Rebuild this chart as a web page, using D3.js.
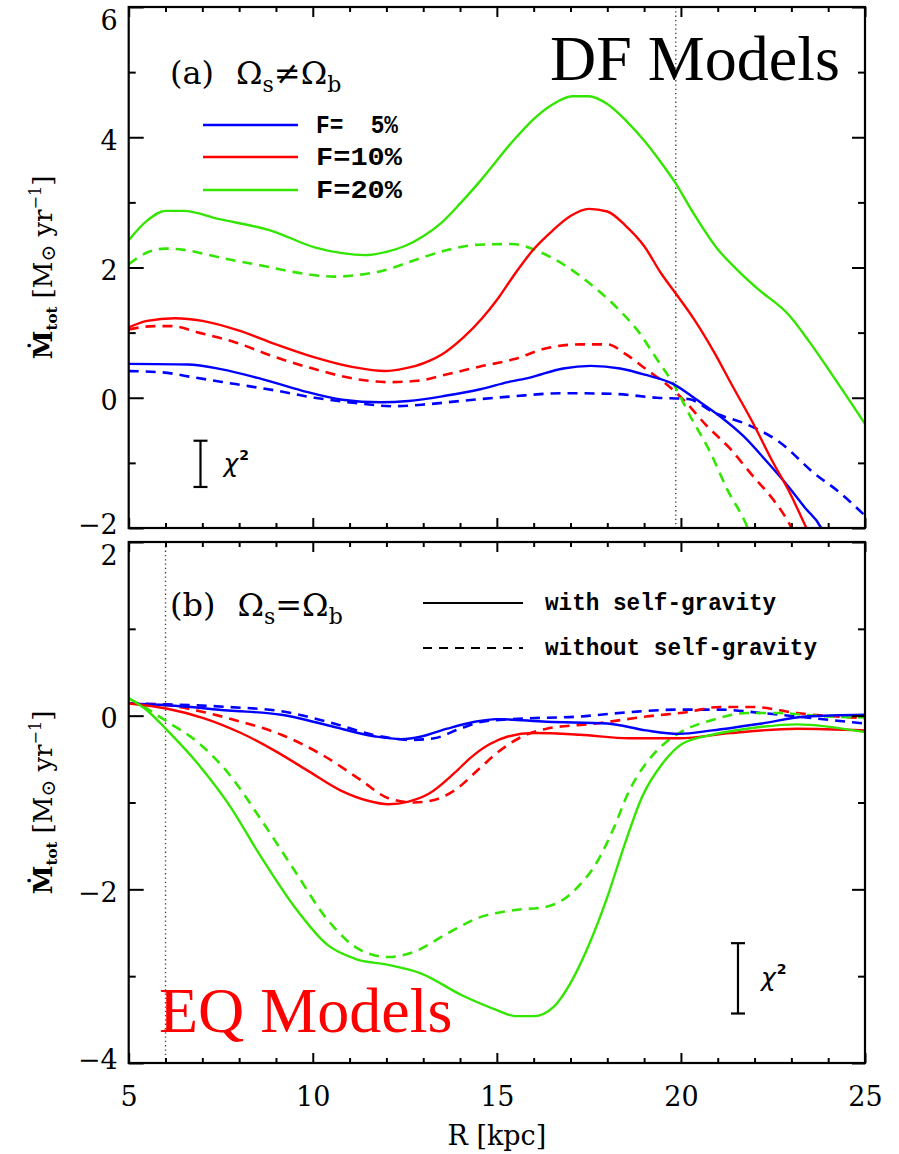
<!DOCTYPE html>
<html>
<head>
<meta charset="utf-8">
<script src="https://cdn.jsdelivr.net/npm/d3@7"></script>
<style>
  html, body { margin: 0; padding: 0; background: #fff; }
  svg { display: block; }
</style>
</head>
<body>
<svg id="chart" width="899" height="1154"></svg>
<script>
// ---------------- DATA ----------------
const xDomain = [5, 25];
const xMajorTicks = [5, 10, 15, 20, 25];
const xMinorTicks = d3.range(5, 25.01, 1);

const aDomain = [-2, 6];
const aMajorTicks = [-2, 0, 2, 4, 6];
const aMinorTicks = d3.range(-2, 6.01, 1);
const bDomain = [-4, 2];
const bMajorTicks = [-4, -2, 0, 2];
const bMinorTicks = d3.range(-4, 2.01, 1);

const fLabels = ["F=  5%", "F=10%", "F=20%"];
const sgLabels = ["with self-gravity", "without self-gravity"];

// Panel (a): DF models, [R (kpc), Mdot (Msun/yr)]
const aF5With = [[5,0.52],[6.6,0.51],[7.5,0.44],[8.6,0.29],[9.7,0.11],[10.8,-0.03],[11.85,-0.07],[12.6,-0.05],[13.6,0.03],[14.55,0.13],[15.3,0.24],[15.9,0.31],[16.8,0.45],[17.55,0.49],[18.35,0.45],[19.05,0.35],[19.8,0.21],[20.4,-0.02],[21.05,-0.28],[21.7,-0.59],[22.35,-0.99],[22.9,-1.35],[23.4,-1.71],[23.8,-1.99],[23.85,-2.05]];
const aF5Without = [[5,0.41],[5.9,0.39],[6.8,0.31],[7.9,0.21],[9.0,0.11],[10.05,0.0],[11.15,-0.08],[12.2,-0.13],[13.1,-0.1],[14.0,-0.05],[15.4,0.02],[16.8,0.07],[18.15,0.06],[19.35,0.0],[20.2,-0.02],[20.9,-0.23],[21.8,-0.41],[22.7,-0.69],[23.6,-1.15],[24.3,-1.45],[25.0,-1.81]];
const aF10With = [[5,1.08],[5.5,1.18],[6.25,1.22],[7.0,1.18],[8.0,1.03],[9.0,0.82],[10.05,0.62],[11.1,0.47],[11.95,0.41],[12.5,0.45],[13.05,0.54],[13.6,0.7],[14.1,0.93],[14.6,1.22],[15.0,1.5],[15.45,1.87],[16.0,2.28],[16.5,2.56],[17.0,2.79],[17.5,2.9],[18.0,2.86],[18.5,2.64],[19.0,2.33],[19.45,1.92],[19.9,1.57],[20.35,1.21],[20.9,0.7],[21.4,0.18],[21.95,-0.38],[22.5,-0.99],[22.95,-1.45],[23.4,-1.99],[23.45,-2.05]];
const aF10Without = [[5,1.05],[5.7,1.1],[6.15,1.1],[6.9,1.0],[7.9,0.85],[8.9,0.64],[10.05,0.44],[11.15,0.29],[12.05,0.24],[12.85,0.26],[13.65,0.36],[14.55,0.48],[15.45,0.59],[16.35,0.76],[17.25,0.82],[18.0,0.82],[18.5,0.67],[19.05,0.44],[19.6,0.21],[20.05,-0.02],[20.7,-0.43],[21.35,-0.79],[21.95,-1.2],[22.5,-1.56],[22.95,-1.94],[23.05,-2.05]];
const aF20With = [[5,2.42],[5.5,2.72],[6.0,2.87],[6.5,2.87],[7.4,2.75],[8.9,2.56],[10.05,2.31],[10.8,2.22],[11.4,2.19],[12.0,2.24],[12.5,2.33],[13.0,2.48],[13.5,2.69],[14.0,2.98],[14.55,3.33],[15.45,3.95],[16.0,4.28],[16.5,4.5],[17.05,4.63],[17.5,4.63],[18.0,4.51],[18.5,4.26],[19.0,3.95],[19.45,3.62],[19.85,3.3],[20.3,2.87],[21.0,2.28],[21.5,1.98],[22.05,1.69],[22.95,1.26],[23.5,0.85],[24.1,0.36],[25.0,-0.4]];
const aF20Without = [[5,2.05],[5.5,2.23],[6.0,2.29],[6.5,2.27],[7.5,2.15],[8.6,2.03],[9.7,1.91],[10.6,1.86],[11.3,1.89],[11.9,1.95],[12.7,2.1],[13.6,2.26],[14.5,2.35],[15.4,2.36],[16.2,2.23],[16.8,2.05],[17.6,1.72],[18.3,1.36],[18.8,1.05],[19.35,0.59],[19.8,0.21],[20.25,-0.28],[20.8,-0.84],[21.25,-1.4],[21.8,-1.98],[21.85,-2.05]];

// Panel (b): EQ models
const bF5With = [[5,0.14],[6.05,0.12],[7.7,0.06],[9.15,0.01],[10.4,-0.11],[11.7,-0.24],[12.4,-0.27],[12.95,-0.24],[13.65,-0.15],[14.4,-0.07],[15.0,-0.04],[16.35,-0.07],[18.0,-0.09],[19.05,-0.17],[19.95,-0.21],[20.85,-0.17],[22.2,-0.09],[23.4,-0.01],[25.0,0.01]];
const bF5Without = [[5,0.14],[6.05,0.13],[7.7,0.1],[9.15,0.05],[10.4,-0.07],[11.85,-0.24],[12.65,-0.28],[13.3,-0.26],[14.0,-0.15],[14.6,-0.07],[15.4,-0.04],[17.25,-0.01],[18.6,0.04],[19.95,0.07],[21.05,0.07],[22.2,0.03],[23.6,-0.03],[25.0,-0.09]];
const bF10With = [[5,0.14],[6.05,0.08],[7.05,-0.03],[8.05,-0.2],[8.95,-0.4],[9.85,-0.63],[10.75,-0.86],[11.5,-0.98],[12.05,-1.02],[12.6,-0.99],[13.15,-0.9],[13.85,-0.66],[14.3,-0.48],[14.8,-0.33],[15.3,-0.24],[16.0,-0.2],[17.25,-0.22],[18.6,-0.26],[19.95,-0.26],[21.35,-0.2],[23.15,-0.15],[25.0,-0.17]];
const bF10Without = [[5,0.14],[6.05,0.12],[7.05,0.04],[8.05,-0.07],[9.15,-0.22],[10.25,-0.45],[11.3,-0.74],[12.05,-0.95],[12.75,-1.0],[13.3,-0.97],[13.85,-0.86],[14.55,-0.6],[15.0,-0.43],[15.6,-0.26],[16.35,-0.15],[17.7,-0.09],[19.05,-0.01],[20.15,0.04],[21.05,0.1],[21.95,0.1],[23.15,0.03],[25.0,-0.03]];
const bF20With = [[5,0.2],[5.5,0.06],[6.05,-0.17],[6.95,-0.59],[7.7,-1.01],[8.6,-1.63],[9.5,-2.2],[10.4,-2.64],[11.15,-2.8],[12.05,-2.87],[12.95,-2.97],[14.05,-3.22],[15.0,-3.39],[15.5,-3.46],[16.0,-3.46],[16.55,-3.35],[17.0,-3.08],[17.55,-2.59],[18.0,-2.09],[18.45,-1.51],[18.95,-0.93],[19.5,-0.55],[20.05,-0.32],[20.85,-0.22],[21.8,-0.15],[23.15,-0.1],[25.0,-0.19]];
const bF20Without = [[5,0.2],[5.5,0.08],[6.05,-0.07],[6.8,-0.28],[7.7,-0.66],[8.6,-1.2],[9.5,-1.78],[10.4,-2.35],[11.3,-2.7],[12.05,-2.78],[12.75,-2.72],[13.65,-2.51],[14.55,-2.32],[15.45,-2.24],[16.35,-2.2],[16.8,-2.12],[17.25,-1.95],[17.7,-1.7],[18.15,-1.32],[18.6,-0.86],[19.05,-0.55],[19.5,-0.34],[19.95,-0.2],[20.85,-0.05],[21.8,0.03],[22.7,0.03],[23.6,0.0],[25.0,-0.02]];

// reference radii (dotted lines) and chi^2 bars [R, low, high]
const aRefR = 19.86;
const bRefR = 6.0;
const aChiBar = [6.95, -1.37, -0.66];
const bChiBar = [21.55, -3.43, -2.62];

// ---------------- STYLE ----------------
const colF = ["#0000ff", "#ff0000", "#33e600"];
const dashPat = "10,7";
const svg = d3.select("#chart");
const L = 128.7, Rt = 865;
const panels = [
  { id: "a", top: 7, bottom: 528, domain: aDomain, major: aMajorTicks, minor: aMinorTicks,
    series: [[aF5With, aF5Without], [aF10With, aF10Without], [aF20With, aF20Without]],
    refR: aRefR, chi: aChiBar },
  { id: "b", top: 542, bottom: 1063, domain: bDomain, major: bMajorTicks, minor: bMinorTicks,
    series: [[bF5With, bF5Without], [bF10With, bF10Without], [bF20With, bF20Without]],
    refR: bRefR, chi: bChiBar }
];

const x = d3.scaleLinear().domain(xDomain).range([L, Rt]);
const tickFont = "'DejaVu Serif', serif";

panels.forEach((p, pi) => {
  const y = d3.scaleLinear().domain(p.domain).range([p.bottom, p.top]);
  const clipId = "clip" + p.id;
  svg.append("clipPath").attr("id", clipId).append("rect")
    .attr("x", L).attr("y", p.top).attr("width", Rt - L).attr("height", p.bottom - p.top);

  // dotted reference line
  svg.append("line")
    .attr("x1", x(p.refR)).attr("x2", x(p.refR))
    .attr("y1", p.top).attr("y2", p.bottom)
    .attr("stroke", "#444").attr("stroke-width", 1.4).attr("stroke-dasharray", "1.3,3");

  // curves
  const line = d3.line().x(d => x(d[0])).y(d => y(d[1])).curve(d3.curveMonotoneX);
  const g = svg.append("g").attr("clip-path", `url(#${clipId})`);
  p.series.forEach((pair, fi) => {
    g.append("path").datum(pair[1]).attr("d", line)
      .attr("fill", "none").attr("stroke", colF[fi]).attr("stroke-width", 2.6)
      .attr("stroke-dasharray", dashPat);
  });
  p.series.forEach((pair, fi) => {
    g.append("path").datum(pair[0]).attr("d", line)
      .attr("fill", "none").attr("stroke", colF[fi]).attr("stroke-width", 2.4);
  });

  const tickStyle = sel => { sel.select(".domain").remove(); sel.selectAll("line").attr("stroke", "#000").attr("stroke-width", 2); };
  const gl = svg.append("g").attr("transform", `translate(${L},0)`)
    .call(d3.axisLeft(y).tickValues(p.major).tickSizeInner(-15).tickSizeOuter(0).tickPadding(11)
      .tickFormat(d => d < 0 ? "\u2212" + Math.abs(d) : d));
  tickStyle(gl);
  gl.selectAll("text").attr("font-family", tickFont).attr("font-size", 27).attr("fill", "#000")
    .attr("dy", d => {
      const py = y(d);
      let shift = 3;
      if (py - p.top < 12) shift = 13;
      if (p.bottom - py < 12) shift = -4;
      return (shift + 9) + "px";
    });
  const glm = svg.append("g").attr("transform", `translate(${L},0)`)
    .call(d3.axisLeft(y).tickValues(p.minor.filter(v => !p.major.includes(v))).tickSizeInner(-7).tickSizeOuter(0).tickFormat(""));
  tickStyle(glm);
  const gr = svg.append("g").attr("transform", `translate(${Rt},0)`)
    .call(d3.axisRight(y).tickValues(p.major).tickSizeInner(-13).tickSizeOuter(0).tickFormat(""));
  tickStyle(gr);
  const grm = svg.append("g").attr("transform", `translate(${Rt},0)`)
    .call(d3.axisRight(y).tickValues(p.minor.filter(v => !p.major.includes(v))).tickSizeInner(-7).tickSizeOuter(0).tickFormat(""));
  tickStyle(grm);
  const xMinorOnly = xMinorTicks.filter(v => !xMajorTicks.includes(v));
  const gt = svg.append("g").attr("transform", `translate(0,${p.top})`)
    .call(d3.axisTop(x).tickValues(xMajorTicks).tickSizeInner(-10).tickSizeOuter(0).tickFormat(""));
  tickStyle(gt);
  const gtm = svg.append("g").attr("transform", `translate(0,${p.top})`)
    .call(d3.axisTop(x).tickValues(xMinorOnly).tickSizeInner(-5).tickSizeOuter(0).tickFormat(""));
  tickStyle(gtm);
  const gb = svg.append("g").attr("transform", `translate(0,${p.bottom})`)
    .call(d3.axisBottom(x).tickValues(xMajorTicks).tickSizeInner(-10).tickSizeOuter(0).tickPadding(24)
      .tickFormat(pi === 1 ? d3.format("d") : ""));
  tickStyle(gb);
  gb.selectAll("text").attr("font-family", tickFont).attr("font-size", 27).attr("fill", "#000");
  const gbm = svg.append("g").attr("transform", `translate(0,${p.bottom})`)
    .call(d3.axisBottom(x).tickValues(xMinorOnly).tickSizeInner(-5).tickSizeOuter(0).tickFormat(""));
  tickStyle(gbm);

  svg.append("rect").attr("x", L).attr("y", p.top).attr("width", Rt - L).attr("height", p.bottom - p.top)
    .attr("fill", "none").attr("stroke", "#000").attr("stroke-width", 2.2);

  // chi^2 bar
  const cx = x(p.chi[0]);
  const cg = svg.append("g").attr("stroke", "#000").attr("stroke-width", 2.2);
  cg.append("line").attr("x1", cx).attr("x2", cx).attr("y1", y(p.chi[1])).attr("y2", y(p.chi[2]));
  cg.append("line").attr("x1", cx - 7).attr("x2", cx + 7).attr("y1", y(p.chi[1])).attr("y2", y(p.chi[1]));
  cg.append("line").attr("x1", cx - 7).attr("x2", cx + 7).attr("y1", y(p.chi[2])).attr("y2", y(p.chi[2]));
  const ct = svg.append("text").attr("x", cx + 23).attr("y", (y(p.chi[1]) + y(p.chi[2])) / 2 + 8)
    .attr("font-family", "'DejaVu Sans', sans-serif").attr("font-size", 25).attr("fill", "#000");
  ct.append("tspan").text("\u03C7").attr("font-style", "italic");
  ct.append("tspan").text("2").attr("font-size", 14).attr("dy", -12).attr("dx", 1).attr("font-weight", "bold");

  // y-axis title
  const ty = (p.top + p.bottom) / 2;
  const yt = svg.append("text")
    .attr("transform", `translate(52,${ty}) rotate(-90)`)
    .attr("text-anchor", "middle")
    .attr("font-family", tickFont).attr("font-size", 26).attr("fill", "#000");
  yt.append("tspan").text("\u1E40").attr("font-weight", "bold");
  yt.append("tspan").text("tot").attr("font-size", 15).attr("font-weight", "bold").attr("dy", 5);
  yt.append("tspan").text(" [M").attr("dy", -5);
  yt.append("tspan").text("\u2299").attr("font-size", 20).attr("dy", 3);
  yt.append("tspan").text(" yr").attr("dy", -3);
  yt.append("tspan").text("\u22121").attr("font-size", 16).attr("dy", -11);
  yt.append("tspan").text("]").attr("dy", 11);
});

// ---------------- panel labels ----------------
function omegaLabel(xp, yp, letter, rel) {
  const t = svg.append("text").attr("x", xp).attr("y", yp)
    .attr("font-family", tickFont).attr("font-size", 32).attr("fill", "#000");
  t.append("tspan").text("(" + letter + ")");
  t.append("tspan").text("\u03A9").attr("dx", 22);
  t.append("tspan").text("s").attr("font-size", 22).attr("dy", 8);
  t.append("tspan").text(rel).attr("dy", -8);
  t.append("tspan").text("\u03A9");
  t.append("tspan").text("b").attr("font-size", 22).attr("dy", 8);
}
omegaLabel(170, 84, "a", "\u2260");
omegaLabel(170, 616, "b", "=");

// Legend (a): F values
const legA = [125, 157, 190];
const legAWidth = [82, 86, 86];
fLabels.forEach((lab, i) => {
  svg.append("line").attr("x1", 203).attr("x2", 298).attr("y1", legA[i]).attr("y2", legA[i])
    .attr("stroke", colF[i]).attr("stroke-width", 2.4);
  svg.append("text").attr("x", 316).attr("y", legA[i] + 8).text(lab)
    .attr("font-family", "'Liberation Mono', monospace").attr("font-weight", "bold")
    .attr("font-size", 25).attr("fill", "#000")
    .style("white-space", "pre")
    .attr("textLength", legAWidth[i]).attr("lengthAdjust", "spacingAndGlyphs");
});

// Legend (b): self-gravity
const legB = [603, 648];
sgLabels.forEach((lab, i) => {
  svg.append("line").attr("x1", 423).attr("x2", 523).attr("y1", legB[i]).attr("y2", legB[i])
    .attr("stroke", "#000").attr("stroke-width", 2.2)
    .attr("stroke-dasharray", i === 1 ? "9,7" : null);
  svg.append("text").attr("x", 545).attr("y", legB[i] + 7).text(lab)
    .attr("font-family", "'Liberation Mono', monospace").attr("font-weight", "bold")
    .attr("font-size", 23).attr("fill", "#000")
    .attr("textLength", lab.length * 13.6).attr("lengthAdjust", "spacingAndGlyphs");
});

// Big labels
svg.append("text").attr("x", 550).attr("y", 80).text("DF Models")
  .attr("font-family", "'Liberation Serif', 'Times New Roman', serif").attr("font-size", 64).attr("fill", "#000");
svg.append("text").attr("x", 159).attr("y", 1032).text("EQ Models")
  .attr("font-family", "'Liberation Serif', 'Times New Roman', serif").attr("font-size", 64).attr("fill", "#ff0000");

// x-axis title
svg.append("text").attr("x", (L + Rt) / 2).attr("y", 1145).attr("text-anchor", "middle")
  .text("R [kpc]").attr("font-family", tickFont).attr("font-size", 27).attr("fill", "#000");
</script>
</body>
</html>
